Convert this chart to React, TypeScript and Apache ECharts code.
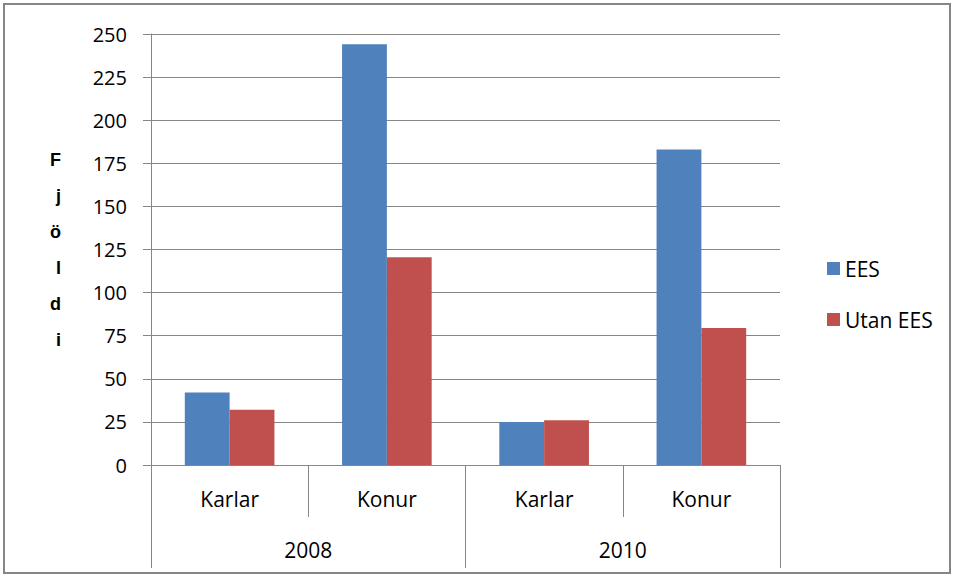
import React, { useEffect, useRef } from "react";
import * as echarts from "echarts";

const innerCategories = ["Karlar", "Konur", "Karlar", "Konur"];
const outerCategories = ["2008", "2010"];
const seriesNames = ["EES", "Utan EES"];
const eesValues = [42, 244, 25, 183];
const utanValues = [32, 120.5, 26, 79.5];
const yTicks = { min: 0, max: 250, interval: 25 };
const axisTitle = "Fjöldi";

const FONT = "'Open Sans', 'Noto Sans', sans-serif";
const GRAY = "#868686";

export default function App() {
  const ref = useRef<HTMLDivElement>(null);
  useEffect(() => {
    if (!ref.current) return;
    const chart = echarts.init(ref.current, null, { renderer: "svg" });
    chart.setOption({
      animation: false,
      backgroundColor: "#ffffff",
      textStyle: { fontFamily: FONT },
      graphic: [
        {
          type: "rect",
          shape: { x: 4, y: 4, width: 946, height: 569 },
          style: { fill: "none", stroke: GRAY, lineWidth: 2 },
          silent: true,
        },
      ],
      legend: {
        orient: "vertical",
        left: 822,
        top: 253,
        itemWidth: 13,
        itemHeight: 13,
        itemGap: 30,
        icon: "rect",
        textStyle: { fontSize: 21, color: "#000", fontFamily: FONT },
        data: seriesNames,
      },
      grid: { left: 151, right: 174, top: 34, bottom: 112, containLabel: false },
      xAxis: [
        {
          type: "category",
          data: innerCategories,
          position: "bottom",
          axisLine: { show: true, lineStyle: { color: GRAY, width: 1 } },
          axisTick: { show: true, length: 52, lineStyle: { color: GRAY } },
          axisLabel: { fontSize: 21, color: "#000", margin: 23, fontFamily: FONT },
        },
        {
          type: "category",
          data: outerCategories,
          position: "bottom",
          axisLine: { show: false },
          axisTick: { show: true, length: 103, lineStyle: { color: GRAY } },
          axisLabel: { fontSize: 21, color: "#000", margin: 74, fontFamily: FONT },
        },
      ],
      yAxis: {
        type: "value",
        min: yTicks.min,
        max: yTicks.max,
        interval: yTicks.interval,
        name: axisTitle.split("").join("\n"),
        nameLocation: "middle",
        nameRotate: 0,
        nameGap: 90,
        nameTextStyle: {
          fontSize: 18,
          fontWeight: "bold",
          color: "#000",
          lineHeight: 36,
          fontFamily: "'Liberation Sans', Arial, sans-serif",
        },
        axisLine: { show: true, lineStyle: { color: GRAY, width: 1 } },
        axisTick: { show: true, length: 8, lineStyle: { color: GRAY } },
        splitLine: { show: true, lineStyle: { color: GRAY, width: 1 } },
        axisLabel: { fontSize: 20, color: "#000", margin: 24, fontFamily: FONT },
      },
      series: [
        {
          name: seriesNames[0],
          type: "bar",
          xAxisIndex: 0,
          data: eesValues,
          barGap: "0%",
          barCategoryGap: "43%",
          itemStyle: { color: "#4F81BD" },
        },
        {
          name: seriesNames[1],
          type: "bar",
          xAxisIndex: 0,
          data: utanValues,
          barGap: "0%",
          barCategoryGap: "43%",
          itemStyle: { color: "#C0504D" },
        },
      ],
    });
    return () => chart.dispose();
  }, []);
  return (
    <div
      ref={ref}
      style={{ position: "fixed", left: 0, top: 0, width: 954, height: 577 }}
    />
  );
}
